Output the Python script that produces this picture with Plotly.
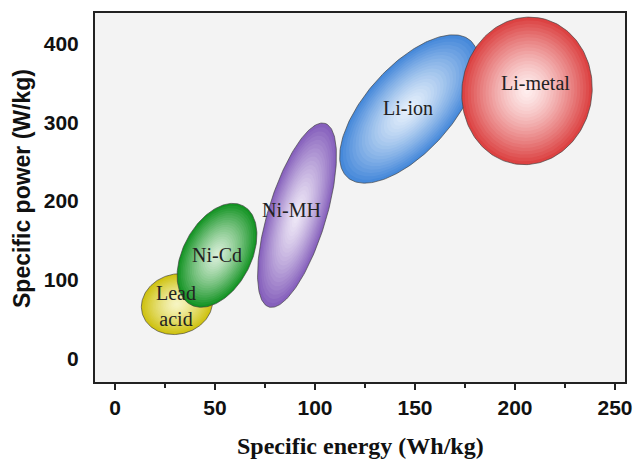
import numpy as np
import plotly.graph_objects as go

# ---- data ----
chemistries = ["Lead acid", "Ni-Cd", "Ni-MH", "Li-ion", "Li-metal"]
labels = ["Lead<br>acid", "Ni-Cd", "Ni-MH", "Li-ion", "Li-metal"]
energy_center = [31, 51, 91, 147, 206]          # Wh/kg
power_center = [69, 131, 182, 317, 340]         # W/kg
major_semi = [18, 28, 48, 46, 37]               # in Wh/kg-equivalent units
minor_semi = [15, 17, 14.5, 21.5, 32.5]
tilt_deg = [15, 62, 73, 48, 81]
label_energy = [30.5, 51, 88, 146.5, 210]
label_power = [66, 131, 189, 318, 350]
edge_colors = ["#cfc210", "#149424", "#8660bc", "#4689da", "#dc4242"]
center_colors = ["#f7f5c4", "#d8eed8", "#efe9f7", "#e6f0fb", "#fff0f0"]

x_ticks = [0, 50, 100, 150, 200, 250]
x_minor = [25, 75, 125, 175, 225]
y_ticks = [0, 100, 200, 300, 400]
x_range = [-10, 255]
y_range = [-30, 439]

# ---- layout geometry ----
W, H = 635, 461
margin = dict(l=95, r=10, t=13, b=79)
plot_w = W - margin["l"] - margin["r"]
plot_h = H - margin["t"] - margin["b"]
sx = plot_w / (x_range[1] - x_range[0])
sy = plot_h / (y_range[1] - y_range[0])


def hex2rgb(h):
    h = h.lstrip("#")
    return np.array([int(h[i:i + 2], 16) for i in (0, 2, 4)], float)


def mix(c0, c1, f):
    c = hex2rgb(c0) * (1 - f) + hex2rgb(c1) * f
    return "rgb(%d,%d,%d)" % tuple(np.round(c).astype(int))


fig = go.Figure()
t = np.linspace(0, 2 * np.pi, 200)
n_layers = 22
for i, name in enumerate(chemistries):
    a = major_semi[i] * 2.0  # px (energy axis ~2 px/unit)
    b = minor_semi[i] * 2.0
    th = np.deg2rad(tilt_deg[i])
    for k in range(n_layers):
        s = 1 - k / n_layers
        u = a * s * np.cos(t)
        v = b * s * np.sin(t)
        du = u * np.cos(th) - v * np.sin(th)
        dv = u * np.sin(th) + v * np.cos(th)
        xs = energy_center[i] + du / sx
        ys = power_center[i] + dv / sy
        f = s ** 1.35
        col = mix(center_colors[i], edge_colors[i], f)
        fig.add_trace(go.Scatter(
            x=xs, y=ys, mode="lines", fill="toself", fillcolor=col,
            line=dict(color="rgba(60,60,60,0.8)" if k == 0 else col,
                      width=0.8 if k == 0 else 0),
            hoverinfo="skip", showlegend=False, name=name))

for i, lab in enumerate(labels):
    fig.add_annotation(x=label_energy[i], y=label_power[i], text=lab,
                       showarrow=False,
                       font=dict(family="Liberation Serif", size=20, color="#222"))

fig.add_annotation(xref="paper", yref="paper", x=(22 - margin["l"]) / plot_w,
                   y=(H - margin["b"] - 189) / plot_h, textangle=-90,
                   text="<b>Specific power (W/kg)</b>", showarrow=False,
                   xanchor="center", yanchor="middle",
                   font=dict(family="Liberation Sans", size=23, color="#111"))
fig.add_annotation(xref="paper", yref="paper", x=(360 - margin["l"]) / plot_w,
                   y=-(446 - (H - margin["b"])) / plot_h,
                   text="<b>Specific energy (Wh/kg)</b>", showarrow=False,
                   xanchor="center", yanchor="middle",
                   font=dict(family="Liberation Serif", size=24, color="#111"))

fig.update_layout(
    width=W, height=H, margin=margin,
    paper_bgcolor="white", plot_bgcolor="#f3f3f3",
    xaxis=dict(range=x_range, tickvals=x_ticks, showgrid=False, zeroline=False,
               automargin=False,
               ticks="outside", ticklen=6, tickwidth=2, tickcolor="#222",
               minor=dict(tickvals=x_minor, ticks="outside",
                          ticklen=4, tickwidth=1.5, tickcolor="#222"),
               showline=True, linecolor="#222", linewidth=2, mirror=True,
               tickfont=dict(family="Liberation Sans", size=21, color="#111", weight="bold")),
    yaxis=dict(range=y_range, tickvals=y_ticks, showgrid=False, zeroline=False,
               automargin=False, ticks="", ticklabelstandoff=10,
               showline=True, linecolor="#222", linewidth=2, mirror=True,
               tickfont=dict(family="Liberation Sans", size=21, color="#111", weight="bold")),
)

fig.write_html("out.html", config={"displayModeBar": False},
               post_script="document.body.style.margin='0';document.body.style.overflow='hidden';")
